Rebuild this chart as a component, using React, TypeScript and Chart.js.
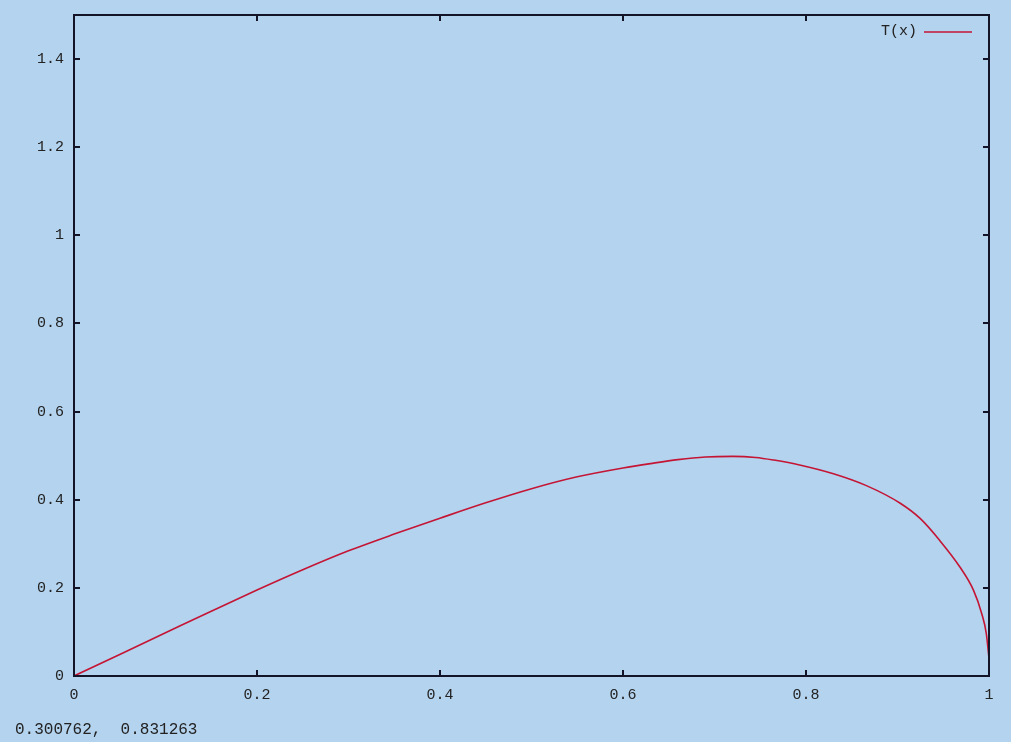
import React, { useEffect, useRef } from "react";
import { Chart, registerables } from "chart.js";

Chart.register(...registerables);

const xValues = [0, 0.05, 0.1, 0.15, 0.2, 0.25, 0.3, 0.35, 0.4, 0.45, 0.5, 0.55, 0.6, 0.63, 0.66, 0.69, 0.72, 0.745, 0.765, 0.793, 0.83, 0.866, 0.903, 0.925, 0.946, 0.968, 0.983, 0.992, 0.997, 1.0];
const tValues = [0, 0.049, 0.098, 0.147, 0.195, 0.241, 0.284, 0.322, 0.358, 0.393, 0.425, 0.452, 0.472, 0.482, 0.491, 0.497, 0.4985, 0.496, 0.49, 0.479, 0.459, 0.432, 0.392, 0.357, 0.308, 0.248, 0.195, 0.142, 0.097, 0.04];
const xTicks = [0, 0.2, 0.4, 0.6, 0.8, 1];
const yTicks = [0, 0.2, 0.4, 0.6, 0.8, 1, 1.2, 1.4];
const seriesLabel = "T(x)";
const statusText = "0.300762,  0.831263";

const FONT = "'Liberation Mono', 'DejaVu Sans Mono', monospace";
const BG = "#b4d3ee";
const INK = "#141428";

function fmt(v: number): string {
  const r = Math.round(v * 10) / 10;
  return String(r);
}

const framePlugin = {
  id: "gnuplotFrame",
  afterDraw(chart: any) {
    const { ctx, chartArea } = chart;
    const { left, right, top, bottom } = chartArea;
    const xs = chart.scales.x;
    const ys = chart.scales.y;
    ctx.save();
    ctx.strokeStyle = INK;
    ctx.lineWidth = 2;
    ctx.strokeRect(left, top, right - left, bottom - top);
    const tl = 6;
    ctx.beginPath();
    for (const v of xTicks) {
      const px = Math.round(xs.getPixelForValue(v));
      ctx.moveTo(px, bottom);
      ctx.lineTo(px, bottom - tl);
      ctx.moveTo(px, top);
      ctx.lineTo(px, top + tl);
    }
    for (const v of yTicks) {
      const py = Math.round(ys.getPixelForValue(v));
      ctx.moveTo(left, py);
      ctx.lineTo(left + tl, py);
      ctx.moveTo(right, py);
      ctx.lineTo(right - tl, py);
    }
    ctx.stroke();
    // key
    const ds = chart.data.datasets[0];
    ctx.font = "15px " + FONT;
    ctx.fillStyle = "#222";
    ctx.textAlign = "right";
    ctx.textBaseline = "middle";
    const ky = top + 16;
    ctx.fillText(ds.label, right - 72, ky);
    ctx.strokeStyle = ds.borderColor;
    ctx.lineWidth = 1.5;
    ctx.beginPath();
    ctx.moveTo(right - 65, ky + 1);
    ctx.lineTo(right - 17, ky + 1);
    ctx.stroke();
    ctx.restore();
  },
};

export default function App() {
  const ref = useRef<HTMLCanvasElement | null>(null);
  useEffect(() => {
    if (!ref.current) return;
    const chart = new Chart(ref.current, {
      type: "line",
      data: {
        datasets: [
          {
            label: seriesLabel,
            data: xValues.map((x, i) => ({ x, y: tValues[i] })),
            borderColor: "#c41535",
            borderWidth: 1.6,
            pointRadius: 0,
            cubicInterpolationMode: "monotone",
            fill: false,
          },
        ],
      },
      options: {
        animation: false,
        responsive: false,
        maintainAspectRatio: false,
        layout: { padding: { top: 15, right: 22, left: 0, bottom: 0 } },
        plugins: { legend: { display: false }, tooltip: { enabled: false } },
        scales: {
          x: {
            type: "linear",
            min: 0,
            max: 1,
            grid: { display: false, drawTicks: false },
            border: { display: false },
            afterBuildTicks: (s: any) => {
              s.ticks = xTicks.map((v) => ({ value: v }));
            },
            afterFit: (s: any) => {
              s.height = 66;
              s.paddingLeft = 0;
              s.paddingRight = 0;
            },
            ticks: {
              padding: 10,
              color: "#222",
              font: { family: FONT, size: 15 },
              maxRotation: 0,
              autoSkip: false,
              callback: (v: any) => fmt(Number(v)),
            },
          },
          y: {
            type: "linear",
            min: 0,
            max: 1.5,
            grid: { display: false, drawTicks: false },
            border: { display: false },
            afterBuildTicks: (s: any) => {
              s.ticks = yTicks.map((v) => ({ value: v }));
            },
            afterFit: (s: any) => {
              s.width = 74;
              s.paddingTop = 0;
              s.paddingBottom = 0;
            },
            ticks: {
              padding: 10,
              color: "#222",
              font: { family: FONT, size: 15 },
              autoSkip: false,
              callback: (v: any) => fmt(Number(v)),
            },
          },
        },
      },
      plugins: [framePlugin],
    } as any);
    return () => chart.destroy();
  }, []);
  return (
    <div style={{ position: "fixed", left: 0, top: 0, width: 1011, height: 742, background: BG }}>
      <canvas ref={ref} width={1011} height={742} style={{ display: "block" }} />
      <div
        style={{
          position: "absolute",
          left: 15,
          top: 721,
          fontFamily: FONT,
          fontSize: 16,
          color: "#222",
          whiteSpace: "pre",
          lineHeight: "18px",
        }}
      >
        {statusText}
      </div>
    </div>
  );
}
